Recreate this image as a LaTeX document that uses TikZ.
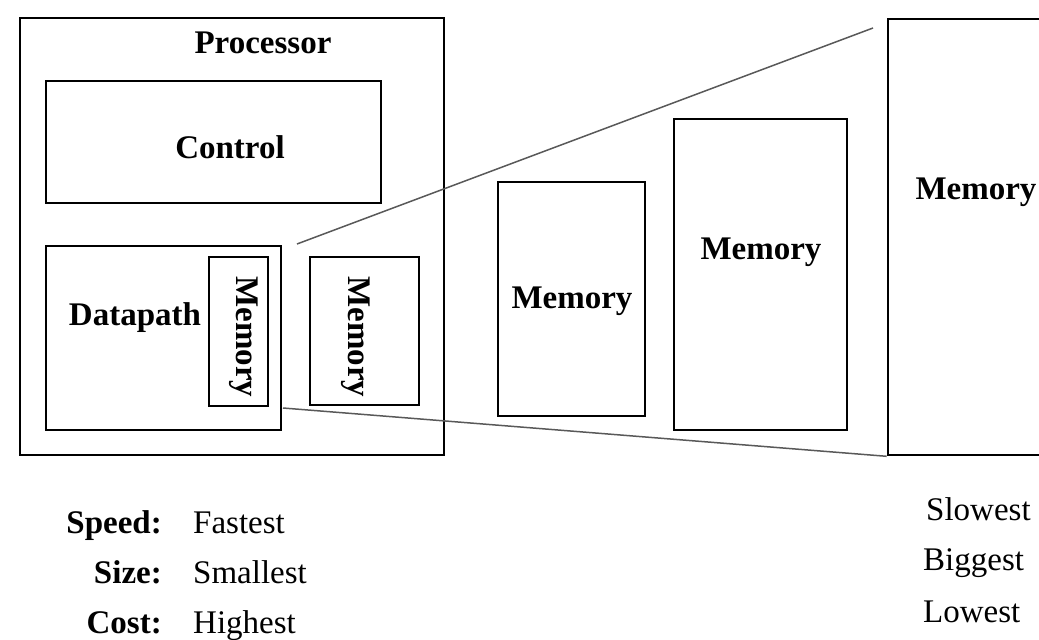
\documentclass[tikz,border=0pt]{standalone}
\usepackage{fontspec}
\setmainfont{Liberation Serif}
\begin{document}
\begin{tikzpicture}[x=1pt,y=-1pt,
  box/.style={draw=black, line width=2.6pt, inner sep=0pt, fill=none},
  lbl/.style={font=\fontsize{33}{40}\selectfont\bfseries, inner sep=0pt},
  val/.style={font=\fontsize{33}{40}\selectfont, inner sep=0pt},
  lead/.style={draw=black!65, line width=1.5pt}]
\useasboundingbox (0,0) rectangle (1039,640);
\clip (0,0) rectangle (1039,640);
\fill[white] (0,0) rectangle (1039,640);

% processor and its parts
\node[box, minimum width=424pt, minimum height=437pt] (proc) at (232,236.5) {};
\node[box, minimum width=335pt, minimum height=122pt] (ctrl) at (213.5,142) {};
\node[box, minimum width=235pt, minimum height=184pt] (dp) at (163.5,338) {};
\node[box, minimum width=59pt, minimum height=149pt] (regs) at (238.5,331.5) {};
\node[box, minimum width=109pt, minimum height=148pt] (cache) at (364.5,331) {};

% outer levels of the hierarchy
\node[box, minimum width=147pt, minimum height=234pt] (memA) at (571.5,299) {};
\node[box, minimum width=173pt, minimum height=311pt] (memB) at (760.5,274.5) {};
\node[box, minimum width=200pt, minimum height=436pt] (memC) at (988,237) {};

% box labels
\node[lbl] (tproc) at (263,43) {Processor};
\node[lbl] (tctrl) at (230,147) {Control};
\node[lbl] (tdp) at (135,318) {Datapath};
\node[lbl, rotate=-90] (tregs) at (244,337) {Memory};
\node[lbl, rotate=-90] (tcache) at (356,337) {Memory};
\node[lbl] (tmemA) at (572,301) {Memory};
\node[lbl] (tmemB) at (761,252) {Memory};
\node[lbl] (tmemC) at (976,192) {Memory};

% leader lines from the datapath out to the largest level
\coordinate (upA) at (297,244);
\coordinate (upB) at (873,28);
\coordinate (loA) at (283,408);
\coordinate (loB) at (memC.south west);
\draw[lead] (upA) -- (upB);
\draw[lead] (loA) -- (loB);

% characteristics, fast end
\node[lbl, anchor=base east] (kspeed) at (162,533) {Speed:};
\node[lbl, anchor=base east] (ksize) at (162,583) {Size:};
\node[lbl, anchor=base east] (kcost) at (162,633) {Cost:};
\node[val, anchor=base west] (vfast) at (193,533) {Fastest};
\node[val, anchor=base west] (vsmall) at (193,583) {Smallest};
\node[val, anchor=base west] (vhigh) at (193,633) {Highest};

% characteristics, slow end
\node[val, anchor=base west] (vslow) at (926,520) {Slowest};
\node[val, anchor=base west] (vbig) at (923,570) {Biggest};
\node[val, anchor=base west] (vlow) at (923,622) {Lowest};
\end{tikzpicture}
\end{document}
